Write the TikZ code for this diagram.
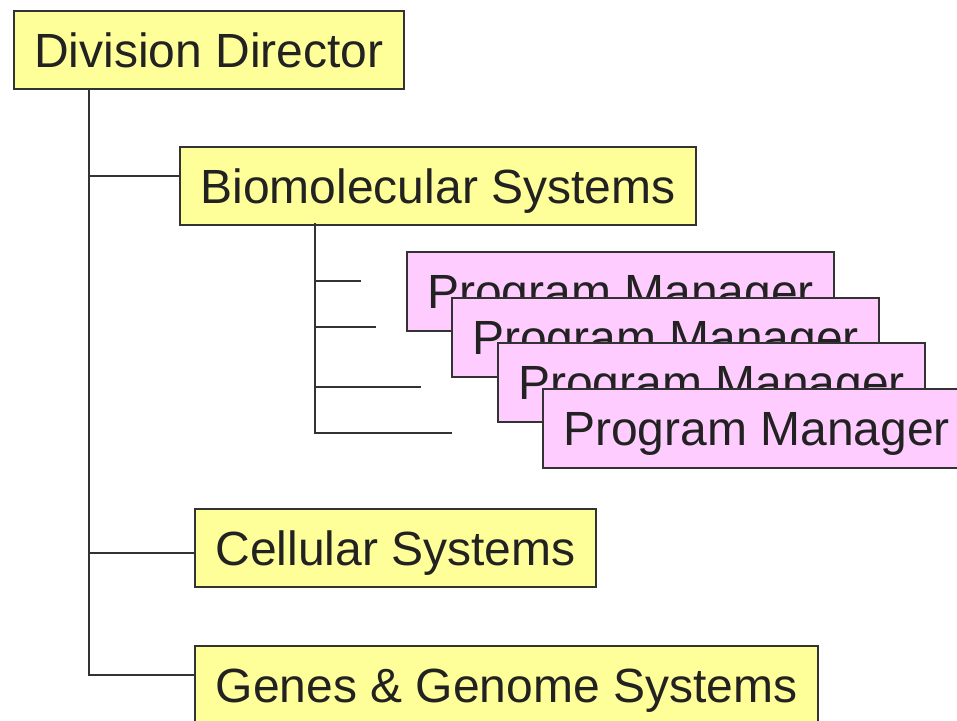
\documentclass[tikz,border=0pt]{standalone}
\usepackage{fontspec}
\setmainfont{Liberation Sans}
\usetikzlibrary{calc}

\definecolor{unitfill}{HTML}{FFFF99}
\definecolor{pmfill}{HTML}{FFCCFF}
\definecolor{edgecol}{HTML}{333333}
\definecolor{textcol}{HTML}{222222}

\begin{document}
\begin{tikzpicture}[x=0.5pt, y=0.5pt,
    box/.style={draw=edgecol, line width=1pt, anchor=north west,
      inner xsep=0pt, text height=17.2pt, text depth=0pt,
      font=\fontsize{24}{29}\selectfont, text=textcol},
    unit/.style={box, fill=unitfill, minimum height=39pt},
    manager/.style={box, fill=pmfill, minimum height=39.5pt, minimum width=213.5pt},
    link/.style={draw=edgecol, line width=1pt}]
    \useasboundingbox (0,0) rectangle (957,-720);
    \clip (0,0) rectangle (957,-720);

    % Division and its sections
    \node[unit, minimum width=195pt] (dd) at (13,-10) {Division Director};
    \node[unit, minimum width=258pt] (bio) at (179,-146) {Biomolecular Systems};
    \node[unit, minimum width=200.5pt] (cell) at (194,-508) {Cellular Systems};
    \node[unit, minimum width=311.5pt] (genes) at (194,-645) {Genes \& Genome Systems};

    \coordinate (ddfoot) at ($(dd.south west)+(76,0)$);
    \draw[link] (ddfoot) |- ($(bio.west)+(0,10)$);
    \draw[link] (ddfoot) |- ($(cell.west)+(0,-5)$);
    \draw[link] (ddfoot) |- ($(genes.west)+(0,10)$);

    % Stubs under Biomolecular Systems
    \coordinate (biofoot) at ($(bio.south west)+(136,3)$);
    \coordinate (stuba) at (361,-281);
    \coordinate (stubb) at (376,-327);
    \coordinate (stubc) at (421,-387);
    \coordinate (stubd) at (452,-433);
    \draw[link] (biofoot) |- (stuba);
    \draw[link] (biofoot) |- (stubb);
    \draw[link] (biofoot) |- (stubc);
    \draw[link] (biofoot) |- (stubd);

    % Stack of program managers
    \node[manager] (pma) at (406,-251) {Program Manager};
    \node[manager] (pmb) at (451,-297) {Program Manager};
    \node[manager] (pmc) at (497,-342) {Program Manager};
    \node[manager] (pmd) at (542,-388) {Program Manager};
\end{tikzpicture}
\end{document}
